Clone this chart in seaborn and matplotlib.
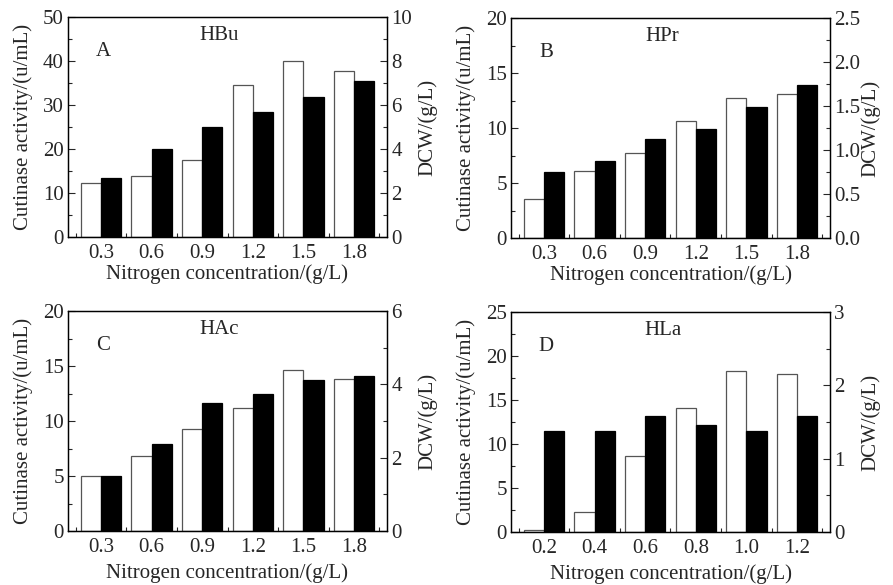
import numpy as np
import pandas as pd
import matplotlib
matplotlib.use("Agg")
import matplotlib.pyplot as plt
import seaborn as sns
from matplotlib.ticker import MultipleLocator, FormatStrFormatter

sns.set_style("ticks")
plt.rcParams['font.family'] = ['Liberation Serif', 'DejaVu Serif']
FS = 15

# ---- data ----
conc_abc = ["0.3", "0.6", "0.9", "1.2", "1.5", "1.8"]
conc_d = ["0.2", "0.4", "0.6", "0.8", "1.0", "1.2"]

hbu_activity = [12.3, 13.9, 17.5, 34.6, 39.9, 37.7]
hbu_dcw = [2.68, 3.98, 4.98, 5.68, 6.38, 7.08]

hpr_activity = [3.55, 6.07, 7.75, 10.65, 12.75, 13.05]
hpr_dcw = [0.75, 0.87, 1.12, 1.24, 1.49, 1.74]

hac_activity = [5.0, 6.8, 9.3, 11.15, 14.6, 13.85]
hac_dcw = [1.5, 2.37, 3.48, 3.74, 4.11, 4.23]

hla_activity = [0.19, 2.24, 8.6, 14.1, 18.3, 18.0]
hla_dcw = [1.38, 1.38, 1.58, 1.46, 1.38, 1.58]

panels = [
    dict(letter="A", name="HBu", cats=conc_abc, act=hbu_activity, dcw=hbu_dcw,
         ylim=50, ymaj=10, ymin=5, rlim=10, rmaj=2, rmin=1, rfmt="%d",
         rect=(68, 17), xl=-0.125),
    dict(letter="B", name="HPr", cats=conc_abc, act=hpr_activity, dcw=hpr_dcw,
         ylim=20, ymaj=5, ymin=2.5, rlim=2.5, rmaj=0.5, rmin=0.25, rfmt="%.1f",
         rect=(511, 18), xl=-0.125),
    dict(letter="C", name="HAc", cats=conc_abc, act=hac_activity, dcw=hac_dcw,
         ylim=20, ymaj=5, ymin=2.5, rlim=6, rmaj=2, rmin=1, rfmt="%d",
         rect=(68, 311), xl=-0.145),
    dict(letter="D", name="HLa", cats=conc_d, act=hla_activity, dcw=hla_dcw,
         ylim=25, ymaj=5, ymin=2.5, rlim=3, rmaj=1, rmin=0.5, rfmt="%d",
         rect=(511, 312), xl=-0.145),
]

W, H = 893, 585
fig = plt.figure(figsize=(W / 100, H / 100), dpi=100)
aw, ah = 319, 220
hue_order = ["activity", "dcw"]
pal = {"activity": "white", "dcw": "black"}

for p in panels:
    x0, top = p["rect"]
    ax = fig.add_axes([x0 / W, (H - top - ah) / H, aw / W, ah / H])
    ax2 = ax.twinx()
    n = len(p["cats"])
    nan = [np.nan] * n
    # both hue levels present so that dodge reserves a slot for each series
    df_a = pd.DataFrame({"conc": p["cats"] * 2, "val": list(p["act"]) + nan,
                         "s": ["activity"] * n + ["dcw"] * n})
    df_d = pd.DataFrame({"conc": p["cats"] * 2, "val": nan + list(p["dcw"]),
                         "s": ["activity"] * n + ["dcw"] * n})
    sns.barplot(data=df_a, x="conc", y="val", hue="s", hue_order=hue_order,
                order=p["cats"], palette=pal, dodge=True,
                edgecolor="#555555", linewidth=0.9, width=0.8, ax=ax,
                legend=False, saturation=1, errorbar=None)
    sns.barplot(data=df_d, x="conc", y="val", hue="s", hue_order=hue_order,
                order=p["cats"], palette=pal, dodge=True,
                edgecolor="black", linewidth=0.9, width=0.8, ax=ax2,
                legend=False, saturation=1, errorbar=None)
    ax.set_xlim(-0.65, 5.65)
    ax.set_ylim(0, p["ylim"])
    ax2.set_ylim(0, p["rlim"])
    ax.yaxis.set_major_locator(MultipleLocator(p["ymaj"]))
    ax.yaxis.set_minor_locator(MultipleLocator(p["ymin"]))
    ax2.yaxis.set_major_locator(MultipleLocator(p["rmaj"]))
    ax2.yaxis.set_minor_locator(MultipleLocator(p["rmin"]))
    ax2.yaxis.set_major_formatter(FormatStrFormatter(p["rfmt"]))
    ax.set_xticks(np.arange(-0.5, 6.0, 1.0), minor=True)
    ax.tick_params(axis="x", which="major", length=0, pad=5, labelsize=FS)
    ax.tick_params(axis="x", which="minor", direction="in", length=3, width=0.8, top=False)
    ax.tick_params(axis="y", which="major", direction="in", length=5, width=0.8, labelsize=FS, pad=3)
    ax.tick_params(axis="y", which="minor", direction="in", length=3, width=0.8)
    ax2.tick_params(axis="y", which="major", direction="in", length=5, width=0.8, labelsize=FS, pad=3)
    ax2.tick_params(axis="y", which="minor", direction="in", length=3, width=0.8)
    ax2.tick_params(axis="x", which="both", length=0, labelbottom=False)
    for a in (ax, ax2):
        for s in a.spines.values():
            s.set_linewidth(0.9)
            s.set_color("black")
    ax.set_xlabel("Nitrogen concentration/(g/L)", fontsize=FS)
    ax.set_ylabel("Cutinase activity/(u/mL)", fontsize=FS)
    ax2.set_ylabel("DCW/(g/L)", fontsize=FS)
    ax.yaxis.set_label_coords(-0.11, 0.5)
    ax2.yaxis.set_label_coords(1.097, 0.5)
    ax.xaxis.set_label_coords(0.5, p["xl"])
    ax.text(0.11, 0.845, p["letter"], transform=ax.transAxes, ha="center", va="center", fontsize=FS)
    ax.text(0.475, 0.915, p["name"], transform=ax.transAxes, ha="center", va="center", fontsize=FS)

fig.savefig("out.png", dpi=100)
